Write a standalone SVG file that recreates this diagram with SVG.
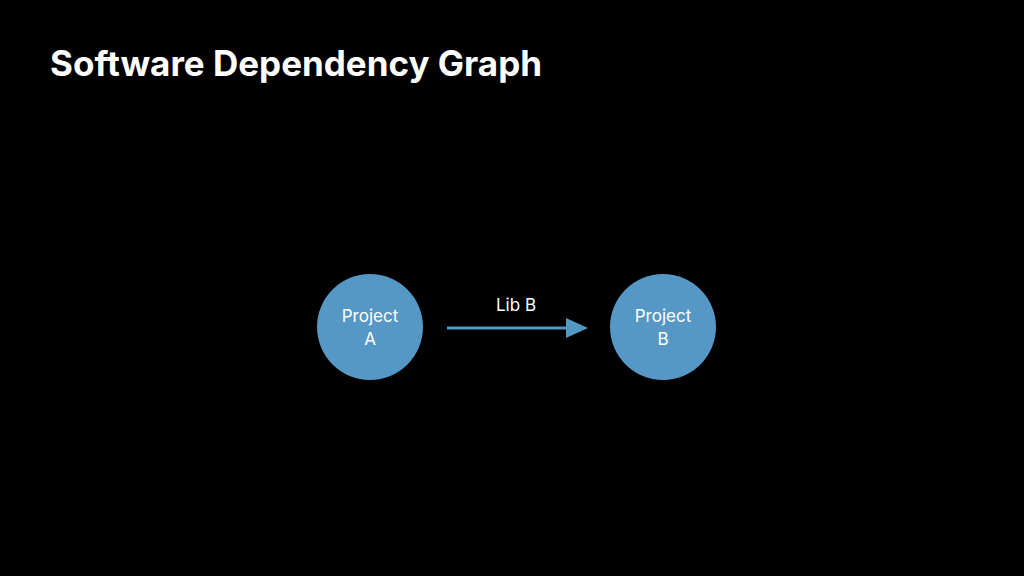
<svg xmlns="http://www.w3.org/2000/svg" width="1024" height="576" viewBox="0 0 1024 576">
<style>
.node{fill:#5597c5}
.t{font-family:Inter,"Liberation Sans",sans-serif;fill:#fff}
.lbl{font-size:17px;text-anchor:middle}
</style>
<rect width="1024" height="576" fill="#000"/>
<text class="t" x="50" y="76" font-size="35" font-weight="bold">Software Dependency Graph</text>
<g id="connectors">
<line x1="447" y1="328" x2="568" y2="328" stroke="#5597c5" stroke-width="3"/>
<polygon points="566,318 588,328 566,338" fill="#5597c5"/>
<text class="t lbl" x="516" y="311">Lib B</text>
</g>
<g id="projectA">
<circle class="node" cx="370" cy="327" r="53"/>
<text class="t lbl" x="370" y="322">Project</text>
<text class="t lbl" x="370" y="345">A</text>
</g>
<g id="projectB">
<circle class="node" cx="663" cy="327" r="53"/>
<text class="t lbl" x="663" y="322">Project</text>
<text class="t lbl" x="663" y="345">B</text>
</g>
</svg>
